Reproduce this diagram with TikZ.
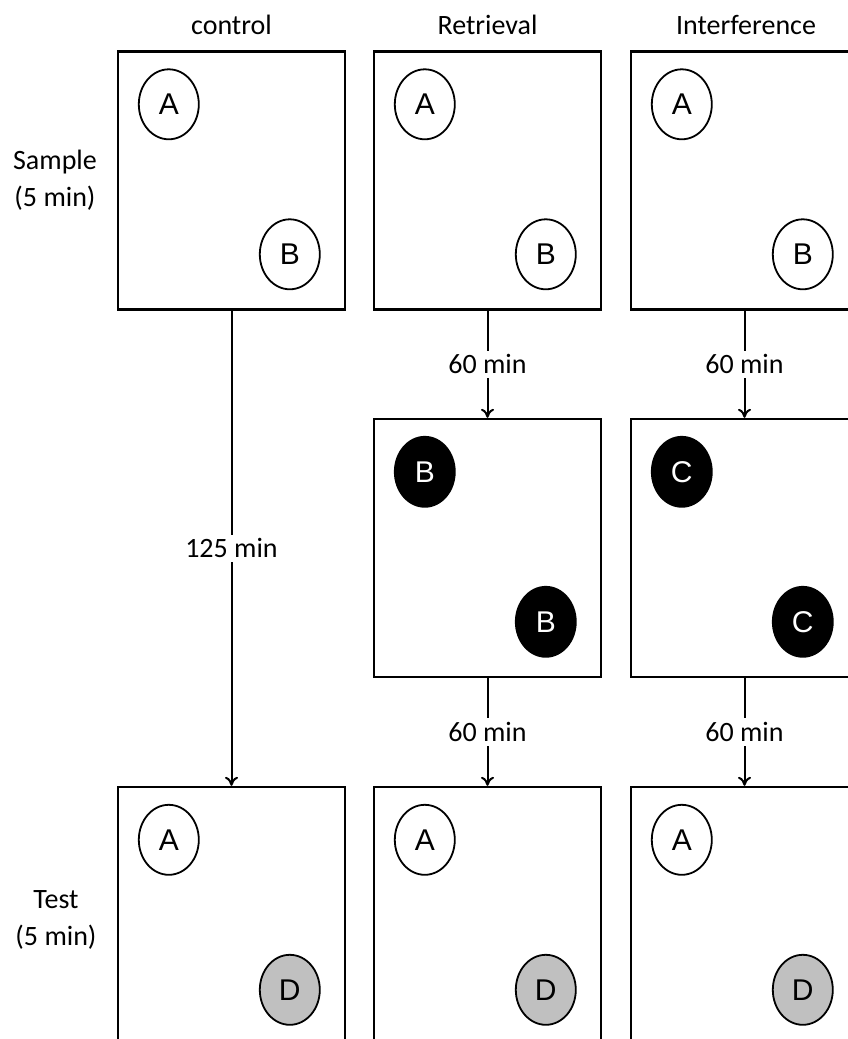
\documentclass[tikz,border=0pt]{standalone}
\usepackage{fontspec}
\setmainfont{Carlito}
\newfontfamily\letterfont{Liberation Sans}
\usetikzlibrary{arrows.meta,shapes.geometric}
\definecolor{objgray}{HTML}{C0C0C0}
\tikzset{
  arena/.style={draw=black, line width=2.4pt, minimum width=227pt, minimum height=258pt, inner sep=0pt},
  obj/.style={ellipse, draw=black, line width=1.8pt, minimum width=60pt, minimum height=70pt, inner sep=0pt, font=\letterfont\fontsize{30}{34}\selectfont},
  openobj/.style={obj, fill=white},
  darkobj/.style={obj, fill=black, text=white},
  grayobj/.style={obj, fill=objgray},
  lbl/.style={font=\fontsize{28}{37}\selectfont, inner sep=2pt},
  timelbl/.style={lbl, fill=white, inner sep=4pt},
  conn/.style={line width=2pt, -{To[length=9pt,width=13pt]}},
}
\begin{document}
\begin{tikzpicture}[x=1pt,y=-1pt]
\useasboundingbox (0,0) rectangle (848,1039);
\clip (0,0) rectangle (848,1039);
% column titles
\node[lbl] (t1) at (231.5,25) {control};
\node[lbl] (t2) at (487.5,25) {Retrieval};
\node[lbl] (t3) at (746,25) {Interference};
% row labels
\node[lbl, align=center] (rs) at (55,180) {Sample\\(5 min)};
\node[lbl, align=center] (rt) at (56,920) {Test\\(5 min)};
% arenas
\node[arena] (s1) at (231.5,180.5) {};
\node[arena] (s2) at (487.5,180.5) {};
\node[arena] (s3) at (744.5,180.5) {};
\node[arena] (m2) at (487.5,548) {};
\node[arena] (m3) at (744.5,548) {};
\node[arena] (e1) at (231.5,916) {};
\node[arena] (e2) at (487.5,916) {};
\node[arena] (e3) at (744.5,916) {};
% objects
\foreach \b in {s1,s2,s3}{
  \node[openobj] (\b a) at ([shift={(52,54)}]\b.north west) {A};
  \node[openobj] (\b b) at ([shift={(173,204)}]\b.north west) {B};
}
\node[darkobj] (m2a) at ([shift={(52,54)}]m2.north west) {B};
\node[darkobj] (m2b) at ([shift={(173,204)}]m2.north west) {B};
\node[darkobj] (m3a) at ([shift={(52,54)}]m3.north west) {C};
\node[darkobj] (m3b) at ([shift={(173,204)}]m3.north west) {C};
\foreach \b in {e1,e2,e3}{
  \node[openobj] (\b a) at ([shift={(52,54)}]\b.north west) {A};
  \node[grayobj] (\b b) at ([shift={(173,204)}]\b.north west) {D};
}
% connectors
\draw[conn] (s1.south) -- node[timelbl] {125 min} (e1.north);
\draw[conn] (s2.south) -- node[timelbl] {60 min} (m2.north);
\draw[conn] (s3.south) -- node[timelbl] {60 min} (m3.north);
\draw[conn] (m2.south) -- node[timelbl] {60 min} (e2.north);
\draw[conn] (m3.south) -- node[timelbl] {60 min} (e3.north);
\end{tikzpicture}
\end{document}
